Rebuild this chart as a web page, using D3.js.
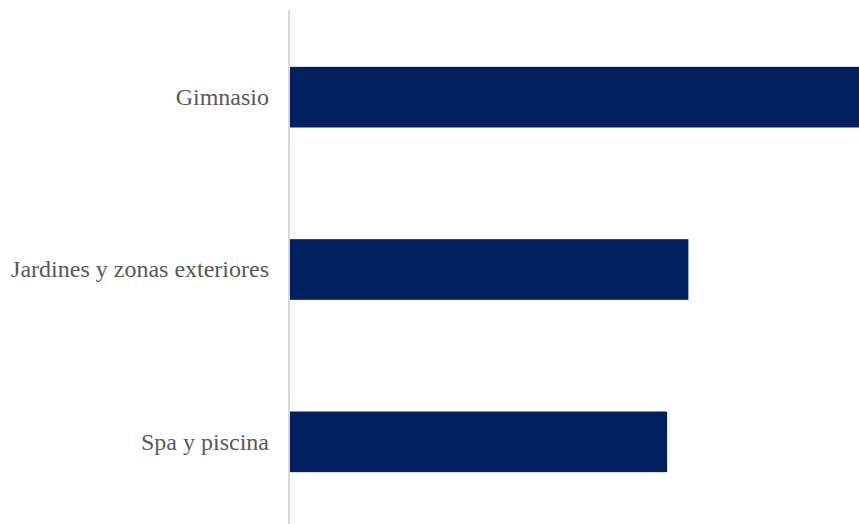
<!DOCTYPE html>
<html>
<head>
<meta charset="utf-8">
<script src="https://cdn.jsdelivr.net/npm/d3@7"></script>
<style>
  html, body { margin: 0; padding: 0; background: #ffffff; }
  svg { display: block; }
</style>
</head>
<body>
<svg id="chart" width="859" height="524"></svg>
<script>
// Share of mentions per amenity (%)
const categories = ["Gimnasio", "Jardines y zonas exteriores", "Spa y piscina"];
const values = [43, 30, 28.4];

const width = 859, height = 524;
const axisX = 290;
const labelFont = "Liberation Serif";

const svg = d3.select("#chart");

const y = d3.scaleBand()
  .domain(categories)
  .range([11, 528])
  .paddingInner(0.648)
  .paddingOuter(0.324);

const x = d3.scaleLinear()
  .domain([0, 43])
  .range([axisX, 861]);

// Bars
svg.append("g")
  .selectAll("rect")
  .data(categories)
  .join("rect")
  .attr("x", x(0))
  .attr("y", d => y(d))
  .attr("width", (d, i) => x(values[i]) - x(0))
  .attr("height", y.bandwidth())
  .attr("fill", "#002060");

// Category axis
const yAxis = svg.append("g")
  .attr("transform", `translate(${axisX - 1},0)`)
  .call(d3.axisLeft(y).tickSize(0).tickPadding(20))
  .attr("font-family", labelFont)
  .attr("font-size", 24);

yAxis.select(".domain")
  .attr("d", `M0,10V${height}`)
  .attr("stroke", "#d9d9d9")
  .attr("stroke-width", 2);

yAxis.selectAll("text")
  .attr("fill", "#595959")
  .attr("dy", "0.32em");
</script>
</body>
</html>
